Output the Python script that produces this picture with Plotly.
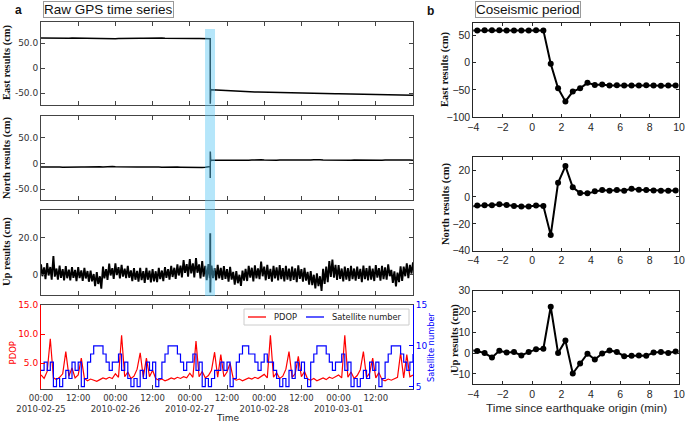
import pandas as pd
import plotly.graph_objects as go

W, H = 685, 422

# ---------------- data ----------------
series_start = "2010-02-25 00:00"
series_end = "2010-03-02 00:00"
quake_origin = "2010-02-27 06:34:14"
band_start = "2010-02-27 04:55"
band_end = "2010-02-27 08:08"

time_tick_hours = [0, 12, 24, 36, 48, 60, 72, 84, 96, 108]
time_tick_labels = ["00:00<br>2010-02-25", "12:00", "00:00<br>2010-02-26", "12:00",
                    "00:00<br>2010-02-27", "12:00", "00:00<br>2010-02-28", "12:00",
                    "00:00<br>2010-03-01", "12:00"]

# hourly East (cm), before (hours 0..54) and after (hours 55..120) the quake
east_pre = [60.5, 60.3, 60.6, 60.2, 60.4, 60.1, 60.3, 60.5, 60.2, 60.0, 60.3,
            60.1, 59.8, 60.2, 60.0, 59.7, 59.9, 59.6, 59.4, 59.0, 58.6, 58.2,
            57.9, 58.4, 58.9, 59.3, 59.6, 59.8, 60.3, 60.6, 60.2, 60.4, 60.1,
            59.9, 60.2, 60.3, 60.0, 59.8, 60.1, 60.2, 59.9, 59.7, 60.0, 59.8,
            59.6, 59.9, 59.7, 59.5, 59.8, 59.6, 59.4, 59.5, 59.3, 59.2, 59.0]
east_post = [-43.2, -43.6, -43.9, -44.3, -44.6, -44.8, -45.2, -45.5, -45.7, -46.0, -46.3,
             -46.6, -46.8, -47.0, -47.3, -47.4, -47.6, -47.8, -47.9, -48.1, -48.3, -48.5,
             -48.7, -48.8, -48.9, -49.1, -49.0, -49.3, -49.4, -49.6, -49.7, -49.8, -49.9,
             -50.0, -50.2, -50.4, -50.6, -50.3, -50.9, -51.4, -51.1, -50.8, -51.0, -51.2,
             -51.0, -51.3, -51.5, -51.6, -51.8, -51.9, -52.1, -52.2, -52.4, -52.5, -52.7,
             -52.8, -52.9, -53.1, -53.2, -53.4, -53.5, -53.6, -53.8, -53.9, -54.0, -54.1]

north_pre = [-7.0, -6.8, -7.2, -6.9, -7.1, -6.6, -6.9, -7.3, -7.0, -6.8, -7.1,
             -6.9, -6.5, -6.8, -7.0, -6.7, -6.9, -7.1, -6.8, -6.6, -6.9, -6.4,
             -5.8, -6.2, -6.7, -6.9, -7.0, -6.8, -7.1, -6.9, -6.7, -7.0, -6.8,
             -7.1, -6.9, -7.2, -7.0, -6.8, -7.1, -7.3, -7.0, -6.9, -7.2, -7.4,
             -7.1, -7.3, -7.5, -7.2, -7.4, -7.6, -7.8, -8.0, -7.8, -7.5, -7.2]
north_post = [6.2, 6.0, 6.3, 6.1, 5.9, 6.2, 6.4, 6.1, 6.3, 6.0, 6.2,
              6.4, 6.3, 6.6, 7.2, 7.8, 7.0, 6.5, 6.2, 6.4, 6.1, 6.3,
              6.5, 6.2, 6.0, 6.3, 6.1, 6.4, 6.6, 6.3, 6.2, 6.5, 6.8,
              7.2, 7.6, 7.1, 6.6, 6.4, 6.9, 7.4, 6.8, 6.5, 6.3, 6.6,
              6.4, 6.2, 6.5, 6.3, 6.1, 6.4, 6.6, 6.3, 6.2, 6.5, 6.3,
              6.1, 6.4, 6.6, 6.2, 6.0, 6.3, 6.5, 6.2, 6.4, 6.7, 6.3]

# Up (cm): hourly high / low of the noisy record
up_pre_hi = [5.5, 3.8, 6.2, 4.0, 10.0, 3.2, 4.8, 2.9, 4.5, 2.6, 3.9,
             2.4, 4.0, 2.2, 3.6, 1.8, 2.0, 0.2, 1.2, -1.0, 4.2, 2.8,
             5.8, 3.4, 6.0, 3.9, 5.2, 3.1, 4.6, 2.2, 3.4, 1.9, 3.6,
             1.8, 3.5, 2.0, 2.9, 1.7, 3.6, 2.1, 4.0, 2.9, 4.6, 3.6,
             5.4, 4.8, 7.8, 5.6, 8.3, 6.0, 8.8, 5.4, 7.2, 4.6, 5.6]
up_pre_lo = [-1.0, -2.6, -0.6, -2.9, -1.2, -2.8, -1.9, -3.2, -2.1, -3.3, -1.9,
             -3.6, -2.0, -3.5, -2.2, -4.0, -3.8, -6.4, -5.2, -7.8, -2.2, -3.0,
             -0.6, -2.4, -0.4, -2.1, -1.2, -2.0, -1.8, -3.6, -2.9, -4.0, -3.1,
             -4.6, -2.9, -4.4, -3.8, -4.2, -2.6, -3.7, -1.9, -2.9, -1.4, -2.4,
             -0.6, -1.6, 0.8, -1.2, 0.6, -1.6, 0.9, -2.2, -1.2, -3.1, -2.0]
up_post_hi = [4.8, 3.4, 5.2, 3.6, 4.5, 2.8, 4.1, 1.4, 1.8, -0.2, 2.0,
              3.0, 4.6, 3.6, 4.9, 3.2, 7.0, 4.2, 5.2, 3.0, 4.6, 3.8,
              5.0, 3.4, 4.6, 3.1, 4.2, 3.3, 4.9, 2.9, 3.6, 1.4, 1.8,
              -0.2, 0.6, -1.0, 3.0, 4.2, 7.2, 8.0, 5.2, 5.0, 3.2, 4.2,
              3.4, 4.6, 3.2, 4.2, 3.0, 4.8, 3.4, 4.6, 3.2, 5.0, 3.4,
              4.6, 3.8, 5.5, 2.4, 1.6, 1.0, 4.4, 4.2, 6.0, 5.2, 6.5]
up_post_lo = [-2.0, -3.2, -2.2, -3.0, -2.4, -4.0, -2.8, -5.6, -4.8, -6.2, -3.4,
              -3.6, -1.8, -3.8, -2.2, -2.6, -1.0, -3.2, -2.4, -4.0, -2.2, -3.2,
              -2.6, -3.8, -2.8, -3.6, -3.0, -4.2, -2.4, -3.9, -3.4, -5.6, -5.8,
              -7.6, -6.4, -9.0, -5.2, -4.2, -1.4, -1.8, -3.0, -2.4, -3.8, -2.8,
              -3.6, -2.6, -3.4, -2.4, -4.2, -2.6, -3.2, -2.8, -3.6, -1.8, -3.4,
              -2.6, -2.8, -1.0, -4.6, -6.5, -4.2, -3.6, -1.0, -2.0, 0.4, -0.4]

# hourly PDOP and satellite number, hours 0..120
pdop_hourly = [3.0, 2.4, 3.6, 9.2, 2.5, 2.2, 2.6, 3.2, 7.0, 2.8, 4.2, 2.5,
               3.0, 5.9, 2.4, 2.0, 2.3, 2.1, 1.9, 2.2, 2.5, 2.3, 2.6, 2.4,
               3.2, 2.6, 9.8, 2.7, 3.5, 2.4, 2.8, 4.0, 6.8, 2.6, 5.9, 2.7,
               3.8, 2.4, 2.1, 2.3, 2.0, 2.2, 2.5, 2.3, 2.6, 2.4, 2.7, 2.5,
               3.3, 2.6, 8.8, 2.7, 3.6, 2.5, 2.9, 3.8, 6.9, 2.6, 6.5, 2.7,
               3.5, 5.0, 2.4, 2.1, 2.3, 2.0, 2.2, 2.5, 2.3, 2.6, 2.4, 2.7,
               3.1, 2.5, 9.8, 2.6, 3.4, 2.4, 2.8, 4.0, 7.0, 2.6, 3.2, 6.2,
               2.7, 3.6, 2.3, 2.1, 2.4, 2.0, 2.3, 2.5, 2.2, 2.6, 2.4, 2.7,
               3.0, 2.5, 9.8, 2.6, 3.5, 2.4, 2.9, 3.9, 7.0, 2.6, 3.3, 5.9,
               2.5, 3.4, 2.2, 2.0, 2.3, 2.1, 2.4, 2.6, 6.8, 2.5, 6.5, 2.7, 3.0]
sat_hourly = [7, 8, 7, 8, 5, 6, 5, 6, 7, 6, 8, 7, 8, 5, 6, 8, 9, 10, 10, 10, 9, 8, 7, 8,
              8, 9, 7, 8, 6, 5, 6, 5, 7, 6, 8, 7, 8, 5, 6, 8, 9, 10, 10, 10, 9, 8, 7, 8,
              8, 9, 7, 8, 5, 6, 5, 6, 7, 7, 8, 7, 8, 5, 6, 8, 9, 10, 10, 9, 9, 8, 7, 8,
              9, 8, 8, 7, 6, 5, 6, 5, 7, 6, 8, 7, 8, 6, 5, 8, 9, 10, 10, 10, 9, 8, 7, 8,
              8, 9, 7, 8, 5, 6, 5, 6, 7, 6, 8, 7, 8, 5, 6, 8, 9, 10, 10, 10, 9, 8, 7, 8, 9]

# coseismic 30-s solutions, minutes since earthquake origin
cos_minutes = [-4.23, -3.73, -3.23, -2.73, -2.23, -1.73, -1.23, -0.73, -0.23, 0.27,
               0.77, 1.27, 1.77, 2.27, 2.77, 3.27, 3.77, 4.27, 4.77, 5.27,
               5.77, 6.27, 6.77, 7.27, 7.77, 8.27, 8.77, 9.27, 9.77]
cos_east = [59.0, 59.0, 59.2, 59.4, 59.1, 58.6, 58.9, 58.7, 59.0, 59.1,
            59.0, -2.0, -47.0, -71.0, -53.0, -47.0, -37.0, -41.0, -40.0, -42.0,
            -41.5, -41.8, -41.6, -41.9, -41.5, -41.7, -42.1, -41.9, -42.0]
cos_north = [-7.0, -6.4, -6.2, -6.2, -5.4, -6.0, -6.7, -7.0, -7.0, -6.4,
             -6.7, -28.4, 10.6, 23.0, 7.2, 3.0, 2.7, 4.2, 5.2, 4.7,
             5.2, 4.7, 6.2, 5.4, 5.2, 4.9, 4.7, 4.7, 4.9]
cos_up = [1.5, 1.0, 0.0, -2.1, 1.1, 0.3, 0.5, -1.1, 0.5, 1.8,
          2.1, 22.3, 0.0, 6.0, -9.8, -5.0, -0.3, -3.1, -0.2, 1.3,
          0.5, -1.5, -1.3, -1.1, -1.3, 0.3, 0.5, 0.0, 0.8]

right_x_ticks = [-4, -2, 0, 2, 4, 6, 8, 10]
east_r_ticks = [-100, -50, 0, 50]
north_r_ticks = [-40, -20, 0, 20]
up_r_ticks = [-10, 0, 10, 20, 30]

# ---------------- build x values ----------------
t0 = pd.Timestamp(series_start)
tq = pd.Timestamp(quake_origin)
POST = 55


def fmt(t):
    return t.strftime("%Y-%m-%d %H:%M:%S")


def at_hour(h):
    return fmt(t0 + pd.Timedelta(hours=h))


cos_times = [fmt(tq + pd.Timedelta(minutes=m)) for m in cos_minutes]


def joined(pre, cos, post):
    x = [at_hour(i) for i in range(len(pre))] + cos_times + [at_hour(POST + i) for i in range(len(post))]
    return x, list(pre) + list(cos) + list(post)


east_x, east_y = joined(east_pre, cos_east, east_post)
north_x, north_y = joined(north_pre, cos_north, north_post)

up_x, up_y = [], []
for i, (hi, lo) in enumerate(zip(up_pre_hi, up_pre_lo)):
    up_x += [at_hour(i), at_hour(i + 0.45)]
    up_y += [hi, lo]
up_x += cos_times
up_y += cos_up
for i, (hi, lo) in enumerate(zip(up_post_hi, up_post_lo)):
    up_x += [at_hour(POST + i), at_hour(POST + i + 0.5)]
    up_y += [hi, lo]

pdop_x = [at_hour(i) for i in range(len(pdop_hourly))]
sat_x = [at_hour(i) for i in range(len(sat_hourly))]


# ---------------- figure ----------------
def fx(p):
    return p / W


def fy(p):
    return 1 - p / H


fig = go.Figure()
blk = dict(color="black", width=1.5)
fig.add_trace(go.Scatter(x=east_x, y=east_y, mode="lines", line=blk, xaxis="x", yaxis="y"))
fig.add_trace(go.Scatter(x=north_x, y=north_y, mode="lines", line=blk, xaxis="x2", yaxis="y2"))
fig.add_trace(go.Scatter(x=up_x, y=up_y, mode="lines", line=dict(color="black", width=1.9),
                         xaxis="x3", yaxis="y3"))
fig.add_trace(go.Scatter(x=pdop_x, y=pdop_hourly, mode="lines", name="PDOP",
                         line=dict(color="red", width=1.2), xaxis="x4", yaxis="y4"))
fig.add_trace(go.Scatter(x=sat_x, y=sat_hourly, mode="lines", name="Satellite number",
                         line=dict(color="blue", width=1.2, shape="hv"), xaxis="x4", yaxis="y5"))

mk = dict(mode="lines+markers", line=dict(color="black", width=2),
          marker=dict(color="black", size=6))
fig.add_trace(go.Scatter(x=cos_minutes, y=cos_east, xaxis="x5", yaxis="y6", **mk))
fig.add_trace(go.Scatter(x=cos_minutes, y=cos_north, xaxis="x6", yaxis="y7", **mk))
fig.add_trace(go.Scatter(x=cos_minutes, y=cos_up, xaxis="x7", yaxis="y8", **mk))

GRAY = "#444444"
DARK = "#262626"
tickfont_l = dict(family="DejaVu Sans", size=9, color="#333333")
tickfont_r = dict(family="Liberation Sans, Arial", size=10.5, color=DARK)
tick_dates = [at_hour(h) for h in time_tick_hours]

LXD = [41 / W, 413 / W]
RXD = [473.3 / W, 679 / W]


def left_x(anchor, labels):
    d = dict(domain=LXD, anchor=anchor, type="date", range=[series_start, series_end],
             tickvals=tick_dates, ticks="inside", ticklen=4, tickcolor=GRAY,
             showline=True, linecolor=GRAY, linewidth=1, mirror="ticks", automargin=False,
             showgrid=False, zeroline=False, showticklabels=labels, tickfont=tickfont_l,
             tickangle=0)
    if labels:
        d["ticktext"] = time_tick_labels
        d["tickfont"] = dict(family="DejaVu Sans", size=8.5, color="#333333")
    return d


def left_y(anchor, top, bot, rng, vals, text):
    return dict(domain=[fy(bot), fy(top)], anchor=anchor, range=rng, tickvals=vals, ticktext=text,
                ticks="inside", ticklen=4, tickcolor=GRAY, showline=True, linecolor=GRAY,
                linewidth=1, mirror="ticks", showgrid=False, zeroline=False, tickfont=tickfont_l,
                automargin=False)


def right_x(anchor):
    return dict(domain=RXD, anchor=anchor, range=[-4, 10], tickvals=right_x_ticks,
                ticks="inside", ticklen=3, tickcolor=DARK, showline=True, linecolor=DARK,
                linewidth=1, mirror="ticks", showgrid=False, zeroline=False, tickfont=tickfont_r,
                automargin=False)


def right_y(anchor, top, bot, rng, vals):
    return dict(domain=[fy(bot), fy(top)], anchor=anchor, range=rng, tickvals=vals,
                ticks="inside", ticklen=3, tickcolor=DARK, showline=True, linecolor=DARK,
                linewidth=1, mirror="ticks", showgrid=False, zeroline=False, tickfont=tickfont_r,
                automargin=False)


fig.update_layout(
    width=W, height=H, margin=dict(l=0, r=0, t=0, b=0, autoexpand=False),
    paper_bgcolor="white", plot_bgcolor="rgba(0,0,0,0)", showlegend=False,
    xaxis=left_x("y", False),
    yaxis=left_y("x", 21.7, 105, [-73.5, 93], [-50, 0, 50], ["-50.0", "0", "50.0"]),
    xaxis2=left_x("y2", False),
    yaxis2=left_y("x2", 116, 200, [-71, 92], [-50, 0, 50], ["-50.0", "0", "50.0"]),
    xaxis3=left_x("y3", False),
    yaxis3=left_y("x3", 210, 295, [-11.2, 35], [0, 20], ["0", "20.0"]),
    xaxis4=left_x("y4", True),
    yaxis4=dict(domain=[fy(389.3), fy(305)], anchor="x4", range=[0.54, 15],
                tickvals=[5, 10, 15], ticktext=["5.0", "10.0", "15.0"],
                ticks="inside", ticklen=4, tickcolor="red", showline=True, linecolor="red",
                linewidth=1, showgrid=False, zeroline=False, automargin=False,
                tickfont=dict(family="DejaVu Sans", size=9, color="red")),
    yaxis5=dict(overlaying="y4", side="right", anchor="x4", range=[4.68, 15],
                tickvals=[5, 10, 15], ticks="inside", ticklen=4, tickcolor="blue",
                showline=True, linecolor="blue", linewidth=1, showgrid=False, zeroline=False,
                automargin=False, tickfont=dict(family="DejaVu Sans", size=9, color="blue")),
    xaxis5=right_x("y6"),
    yaxis6=right_y("x5", 23.3, 117.3, [-100, 72], east_r_ticks),
    xaxis6=right_x("y7"),
    yaxis7=right_y("x6", 156.7, 250.7, [-40, 30], north_r_ticks),
    xaxis7=right_x("y8"),
    yaxis8=right_y("x7", 290.7, 384.3, [-15, 30], up_r_ticks),
)

# earthquake window band
fig.add_shape(type="rect", xref="x", yref="paper", x0=band_start, x1=band_end,
              y0=fy(296), y1=fy(29), fillcolor="rgba(90,200,245,0.45)", line_width=0,
              layer="above")

# manual legend
fig.add_shape(type="rect", xref="paper", yref="paper", x0=fx(244), x1=fx(409),
              y0=fy(325), y1=fy(309), line=dict(color="#cccccc", width=1), fillcolor="white",
              layer="above")
fig.add_shape(type="line", xref="paper", yref="paper", x0=fx(248), x1=fx(266),
              y0=fy(317), y1=fy(317), line=dict(color="red", width=1.3), layer="above")
fig.add_shape(type="line", xref="paper", yref="paper", x0=fx(306), x1=fx(324),
              y0=fy(317), y1=fy(317), line=dict(color="blue", width=1.3), layer="above")

ann = []


def text(x, y, s, size, color="#222222", family="DejaVu Sans", angle=0, xanchor="center",
         weight="normal", **kw):
    ann.append(dict(x=fx(x), y=fy(y), xref="paper", yref="paper", text=s, showarrow=False,
                    textangle=angle, xanchor=xanchor, yanchor="middle",
                    font=dict(family=family, size=size, color=color, weight=weight), **kw))


text(272, 317, "PDOP", 8.3, xanchor="left")
text(330, 317, "Satellite number", 8.3, xanchor="left")

serif = "Liberation Serif, Times New Roman"
text(7, 62, "East results (cm)", 10.5, color="#111111", family=serif, angle=-90, weight="bold")
text(7, 158, "North results (cm)", 10.5, color="#111111", family=serif, angle=-90, weight="bold")
text(7, 252, "Up results (cm)", 10.5, color="#111111", family=serif, angle=-90, weight="bold")
text(12.5, 352, "PDOP", 8.5, color="red", angle=-90)
text(431, 347, "Satellite number", 8.3, color="blue", angle=-90)
text(227, 417.5, "Time", 9)

text(445, 69, "East results (cm)", 10.5, color="#111111", family=serif, angle=-90, weight="bold")
text(446, 204, "North results (cm)", 10.5, color="#111111", family=serif, angle=-90, weight="bold")
text(455, 339, "Up results (cm)", 10.5, color="#111111", family=serif, angle=-90, weight="bold")
text(576, 408, "Time since earthquake origin (min)", 11.8, color=DARK,
     family="Liberation Sans, Arial")

text(18, 10, "a", 12, color="#111111", family="Liberation Sans, Arial", weight="bold")
text(430, 11, "b", 12, color="#111111", family="Liberation Sans, Arial", weight="bold")
text(108, 9.5, "Raw GPS time series", 13.5, color="#111111", family="Liberation Sans, Arial",
     bordercolor="#9a9a9a", borderwidth=1, borderpad=0)
text(527.5, 9.5, "Coseismic period", 13.5, color="#111111", family="Liberation Sans, Arial",
     bordercolor="#9a9a9a", borderwidth=1, borderpad=0)

fig.update_layout(annotations=ann)
fig.write_html("out.html", config={"displayModeBar": False},
               post_script="document.body.style.margin='0';")
